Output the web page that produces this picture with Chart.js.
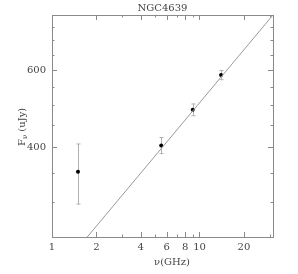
<!DOCTYPE html>
<html>
<head>
<meta charset="utf-8">
<script src="https://cdn.jsdelivr.net/npm/chart.js@4.4.0/dist/chart.umd.min.js"></script>
<style>
  html, body { margin: 0; padding: 0; background: #fff; }
  #wrap { width: 298px; height: 274px; }
</style>
</head>
<body>
<div id="wrap"><canvas id="sedChart" width="298" height="274"></canvas></div>
<script>
// frequencies (GHz) and flux densities (uJy)
const freqGHz = [1.5, 5.5, 9.0, 14.0];
const fluxUJy = [352, 404, 487, 584];
const fluxErr = [55, 17, 15, 14];

// power-law fit, drawn across the panel
const fitX = [1.734, 31.5];
const fitY = [250, 800];

// axis ticks
const xTickLabels = [1, 2, 4, 6, 8, 10, 20];
const xMinorTicks = [3, 5, 7, 9, 30];
const yTickLabels = [400, 600];
const yMinorTicks = [300, 350, 450, 500, 550, 650, 700, 750];

const FONT = '"DejaVu Serif", "Liberation Serif", serif';
const AXIS = '#8a8a8a';
const TEXT = '#444';

// frame, inward ticks, labels and error bars
const framePlugin = {
    id: 'frame',
    beforeDatasetsDraw(chart) {
        const ctx = chart.ctx;
        const xs = chart.scales.x, ys = chart.scales.y;
        ctx.save();
        ctx.strokeStyle = '#b0b0b0';
        ctx.lineWidth = 1;
        for (let i = 0; i < freqGHz.length; i++) {
            const px = Math.round(xs.getPixelForValue(freqGHz[i])) + 0.5;
            const top = ys.getPixelForValue(fluxUJy[i] + fluxErr[i]);
            const bot = ys.getPixelForValue(fluxUJy[i] - fluxErr[i]);
            ctx.beginPath();
            ctx.moveTo(px, top); ctx.lineTo(px, bot);
            ctx.moveTo(px - 2, top); ctx.lineTo(px + 2, top);
            ctx.moveTo(px - 2, bot); ctx.lineTo(px + 2, bot);
            ctx.stroke();
        }
        ctx.restore();
    },
    afterDraw(chart) {
        const ctx = chart.ctx;
        const a = chart.chartArea;
        const xs = chart.scales.x, ys = chart.scales.y;
        ctx.save();
        ctx.strokeStyle = AXIS;
        ctx.lineWidth = 1;
        ctx.strokeRect(a.left + 0.5, a.top + 0.5, a.right - a.left, a.bottom - a.top);

        ctx.beginPath();
        const xTick = (v, len) => {
            const px = Math.round(xs.getPixelForValue(v)) + 0.5;
            ctx.moveTo(px, a.bottom); ctx.lineTo(px, a.bottom - len);
            ctx.moveTo(px, a.top); ctx.lineTo(px, a.top + len);
        };
        const yTick = (v, len) => {
            const py = Math.round(ys.getPixelForValue(v)) + 0.5;
            ctx.moveTo(a.left, py); ctx.lineTo(a.left + len, py);
            ctx.moveTo(a.right, py); ctx.lineTo(a.right - len, py);
        };
        xTickLabels.forEach(v => xTick(v, 5));
        xMinorTicks.forEach(v => xTick(v, 2.5));
        yTickLabels.forEach(v => yTick(v, 5));
        yMinorTicks.forEach(v => yTick(v, 2.5));
        ctx.stroke();

        ctx.fillStyle = TEXT;
        ctx.font = '10px ' + FONT;
        ctx.textAlign = 'center';
        ctx.textBaseline = 'middle';
        xTickLabels.forEach(v => ctx.fillText(String(v), xs.getPixelForValue(v), a.bottom + 10));
        ctx.textAlign = 'right';
        yTickLabels.forEach(v => ctx.fillText(String(v), a.left - 6, ys.getPixelForValue(v)));

        // title
        ctx.textAlign = 'center';
        ctx.font = '10px ' + FONT;
        ctx.fillText('NGC4639', (a.left + a.right) / 2, 8);

        // x axis title
        ctx.fillText('\u03bd(GHz)', 172, 262);

        // y axis title, rotated, with subscript nu
        ctx.translate(22, 146);
        ctx.rotate(-Math.PI / 2);
        ctx.textAlign = 'left';
        ctx.font = '10px ' + FONT;
        const wF = ctx.measureText('F').width;
        ctx.fillText('F', 0, 0);
        ctx.font = '7px ' + FONT;
        const wNu = ctx.measureText('\u03bd').width;
        ctx.fillText('\u03bd', wF, 3);
        ctx.font = '10px ' + FONT;
        ctx.fillText(' (uJy)', wF + wNu, 0);
        ctx.restore();
    }
};

const ctx = document.getElementById('sedChart').getContext('2d');
new Chart(ctx, {
    type: 'scatter',
    data: {
        datasets: [
            {
                label: 'fit',
                type: 'line',
                data: fitX.map((x, i) => ({ x: x, y: fitY[i] })),
                borderColor: '#9a9a9a',
                borderWidth: 1,
                pointRadius: 0,
                fill: false
            },
            {
                label: 'NGC4639',
                data: freqGHz.map((x, i) => ({ x: x, y: fluxUJy[i] })),
                backgroundColor: '#000',
                borderColor: '#000',
                pointRadius: 2,
                borderWidth: 0
            }
        ]
    },
    options: {
        responsive: false,
        animation: false,
        layout: { padding: { left: 52, right: 25, top: 15, bottom: 37 } },
        plugins: {
            legend: { display: false },
            tooltip: { enabled: false },
            title: { display: false }
        },
        scales: {
            x: { type: 'logarithmic', min: 1, max: 31.5, display: false },
            y: { type: 'logarithmic', min: 250, max: 800, display: false }
        }
    },
    plugins: [framePlugin]
});
</script>
</body>
</html>
